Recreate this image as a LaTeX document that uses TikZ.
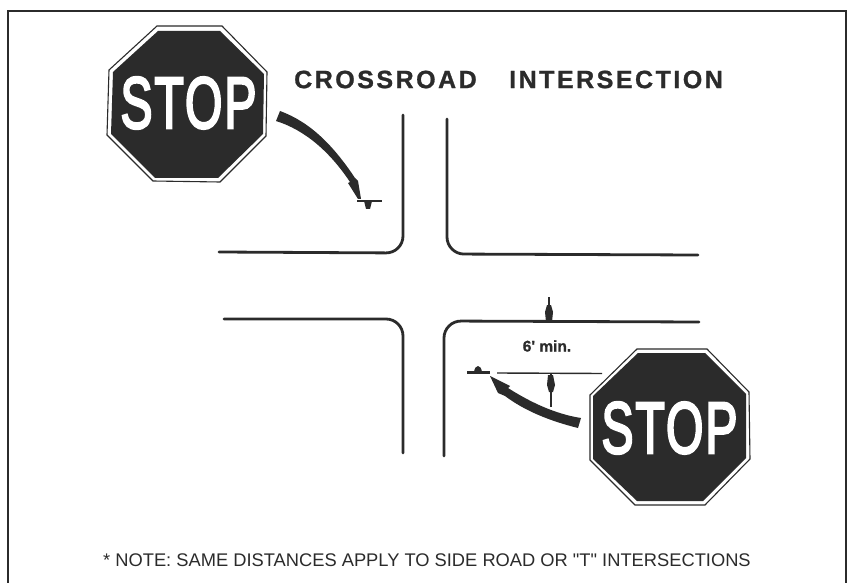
\documentclass[tikz,border=0pt]{standalone}
\usepackage{fontspec}
\setmainfont{Liberation Sans}
\newfontfamily\notefont{Liberation Sans}
\newfontfamily\signfont[FakeBold=3.6,LetterSpace=4]{Liberation Sans}
\newfontfamily\titlefont[LetterSpace=10,FakeBold=1]{Liberation Sans Bold}
\newfontfamily\minfont[FakeBold=1]{Liberation Sans Bold}
\definecolor{ink}{HTML}{2B2B2B}
\tikzset{
  x=1pt,y=-1pt,
  frameline/.style={draw=ink,line width=2pt},
  road/.style={draw=ink,line width=2.8pt,line cap=round,rounded corners=17pt},
  thinrule/.style={draw=ink,line width=1.4pt},
  barrule/.style={draw=ink,line width=2.2pt},
  taper/.style={fill=ink,draw=none},
  signrim/.style={draw=ink,line width=1.1pt,fill=white},
  signface/.style={fill=ink,draw=none},
  stoptext/.style={text=white,inner sep=0pt,font=\signfont\fontsize{73}{73}\selectfont,xscale=.66},
  titletext/.style={text=ink,inner sep=0pt,font=\titlefont\fontsize{25}{25}\selectfont},
}
\begin{document}
\begin{tikzpicture}
\useasboundingbox (0,0) rectangle (847,583);
\fill[white] (0,0) rectangle (847,583);
% frame
\draw[frameline] (8,583) -- (8,11) -- (845.5,11) -- (845.5,583);
% roads
\draw[road] (403,115) -- (403,253) -- (219,252);
\draw[road] (447,119) -- (447,254) -- (698,255);
\draw[road] (224,319) -- (403,319) -- (403,453);
\draw[road] (699,322) -- (444,321) -- (444,456);
% stop sign 1
\draw[signrim] (157,26) -- (222,26) -- (267,72) -- (266,136) -- (220,182) -- (153,181) -- (107,135) -- (109,70) -- cycle;
\fill[signface] (158,31) -- (220,31) -- (264,74) -- (263,134) -- (218,178) -- (155,178) -- (111,134) -- (113,72) -- cycle;
\node[stoptext] (stopa) at (188.5,103) {STOP};
% stop sign 2
\draw[signrim] (637,349) -- (707,349) -- (749,392) -- (750,459) -- (705,505) -- (635,505) -- (590,460) -- (590,395) -- cycle;
\fill[signface] (638,353) -- (705,353) -- (746,394) -- (746,458) -- (703,501) -- (637,501) -- (593,459) -- (593,396) -- cycle;
\node[stoptext] (stopb) at (669.5,428) {STOP};
% curved arrow 1
\fill[taper] (280,111) .. controls (310,122) and (333,145) .. (355,178)
  -- (358,181) -- (361,199) -- (358,199) -- (348,183) -- (350,182)
  .. controls (330,152) and (305,130) .. (276,121) -- cycle;
\draw[barrule] (357,201) -- (382,201);
\fill[taper] (364,201) -- (372,201) -- (370,209) -- (366,209) -- cycle;
% curved arrow 2
\fill[taper] (490,376) -- (510,386) -- (508,388)
  .. controls (530,402) and (555,414) .. (581,418)
  -- (578,428) .. controls (550,421) and (525,411) .. (505,396)
  -- (498,393) -- cycle;
% stop bar 2
\draw[barrule] (467,372.5) -- (490,372.5);
\fill[taper] (474,372) .. controls (475,364) and (481,364) .. (482,372) -- cycle;
% dimension
\coordinate (dimtop) at (549,322);
\coordinate (dimtopstart) at (549,297);
\coordinate (dimbot) at (551,374);
\coordinate (dimbotstart) at (551,407);
\draw[thinrule] (497,373) -- (602,373.5);
\draw[thinrule] (dimtopstart) -- (dimtop);
\fill[taper] (546,322) -- (545,312) -- (547,305) -- (551,305) -- (553,312) -- (552,322) -- cycle;
\draw[thinrule] (dimbotstart) -- (dimbot);
\fill[taper] (548,375) -- (547,385) -- (549,392) -- (553,392) -- (555,385) -- (553,375) -- cycle;
% texts
\node[inner sep=0pt,text=ink,font=\minfont\fontsize{15.5}{15.5}\selectfont] (minlabel) at (547,346) {6' min.};
\node[titletext,anchor=west] (titlea) at (294,79.5) {CROSSROAD};
\node[titletext,anchor=west] (titleb) at (509,79.5) {INTERSECTION};
\node[inner sep=0pt,text=ink,font=\notefont\fontsize{18.3}{18.3}\selectfont,anchor=west] (note) at (103,560) {* NOTE: SAME DISTANCES APPLY TO SIDE ROAD OR "T" INTERSECTIONS};
\end{tikzpicture}
\end{document}
